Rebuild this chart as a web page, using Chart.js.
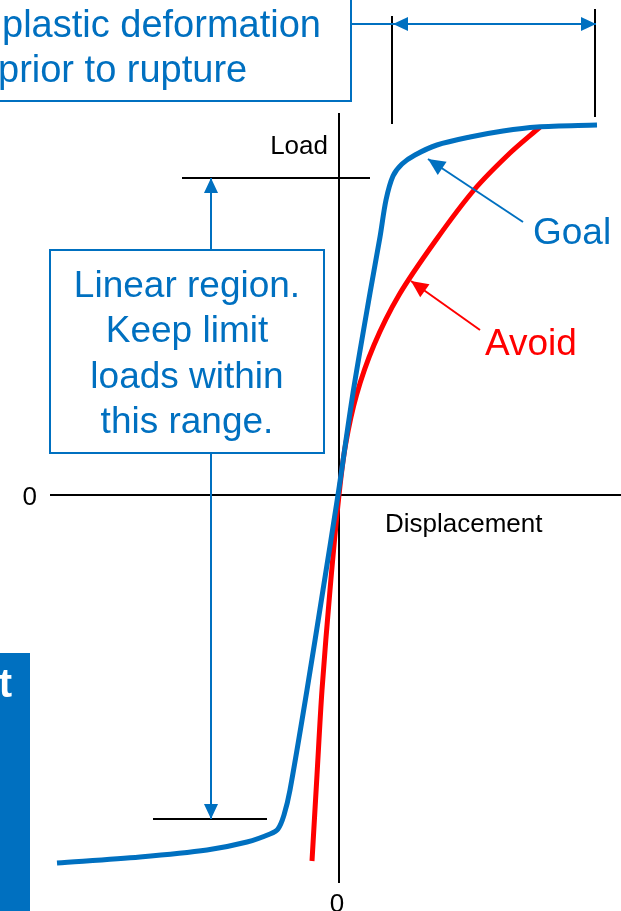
<!DOCTYPE html>
<html>
<head>
<meta charset="utf-8">
<script src="https://cdn.jsdelivr.net/npm/chart.js@4/dist/chart.umd.min.js"></script>
<style>
  html, body { margin: 0; padding: 0; background: #fff; }
  #wrap { width: 621px; height: 911px; position: relative; }
</style>
</head>
<body>
<div id="wrap"><canvas id="chart"></canvas></div>
<script>
// Load–displacement curves (arbitrary units, origin at zero load / zero displacement)
const goalDisplacement = [-2.82, -1.99, -1.32, -0.92, -0.69, -0.61, -0.55, -0.49, -0.32, -0.16, -0.01, 0.14, 0.31, 0.41, 0.47, 0.54, 0.63, 0.76, 0.98, 1.31, 1.64, 1.98, 2.58];
const goalLoad         = [-3.68, -3.62, -3.55, -3.47, -3.39, -3.34, -3.20, -2.95, -1.95, -0.95, 0.00, 1.02, 2.02, 2.58, 2.95, 3.19, 3.31, 3.40, 3.50, 3.58, 3.64, 3.68, 3.70];
const avoidDisplacement = [-0.27, -0.22, -0.17, -0.09, 0.00, 0.065, 0.175, 0.35, 0.60, 0.97, 1.35, 1.71, 2.01];
const avoidLoad         = [-3.66, -2.80, -1.95, -0.95, 0.00, 0.50, 1.00, 1.50, 2.00, 2.55, 3.05, 3.42, 3.68];

const seriesNames = ['Goal', 'Avoid'];
const originTickLabels = ['0', '0'];
const axisTitles = ['Load', 'Displacement'];
const linearRegionText = ['Linear region.', 'Keep limit', 'loads within', 'this range.'];
const plasticText = ['plastic deformation', 'prior to rupture'];

// Design-limit band and plastic range (same units as the curves)
const limitLoadUpper = 3.17;
const limitLoadLower = -3.24;
const plasticStart = 0.53;
const plasticEnd = 2.57;

const BLUE = '#0070C0';
const RED = '#FF0000';
const FONT = '"Liberation Sans", Arial, Helvetica, sans-serif';

const toPoints = (xs, ys) => xs.map((x, i) => ({ x, y: ys[i] }));

const diagram = {
  id: 'diagram',
  beforeDatasetsDraw(chart) {
    const { ctx, scales: { x, y } } = chart;
    const X = v => x.getPixelForValue(v);
    const Y = v => y.getPixelForValue(v);
    ctx.save();
    ctx.strokeStyle = '#000';
    ctx.lineWidth = 2;
    ctx.beginPath();
    // axes through the origin
    ctx.moveTo(X(-2.89), Y(0)); ctx.lineTo(X(3.0), Y(0));
    ctx.moveTo(X(0), Y(3.82)); ctx.lineTo(X(0), Y(-3.88));
    // limit load lines
    ctx.moveTo(X(-1.57), Y(limitLoadUpper)); ctx.lineTo(X(0.31), Y(limitLoadUpper));
    ctx.moveTo(X(-1.86), Y(limitLoadLower)); ctx.lineTo(X(-0.72), Y(limitLoadLower));
    // plastic range markers
    ctx.moveTo(X(plasticStart), Y(4.79)); ctx.lineTo(X(plasticStart), Y(3.71));
    ctx.moveTo(X(plasticEnd - 0.01), Y(4.86)); ctx.lineTo(X(plasticEnd - 0.01), Y(3.78));
    ctx.stroke();

    // axis texts
    ctx.fillStyle = '#000';
    ctx.font = '26px ' + FONT;
    ctx.textBaseline = 'alphabetic';
    ctx.textAlign = 'right';
    ctx.fillText(axisTitles[0], X(-0.11), Y(3.41));
    ctx.fillText(originTickLabels[0], X(-3.02), Y(-0.10));
    ctx.textAlign = 'left';
    ctx.fillText(axisTitles[1], X(0.46), Y(-0.37));
    ctx.textAlign = 'center';
    ctx.fillText(originTickLabels[1], X(-0.02), Y(-4.17));
    ctx.restore();
  },
  afterDatasetsDraw(chart) {
    const { ctx, scales: { x, y } } = chart;
    const X = v => x.getPixelForValue(v);
    const Y = v => y.getPixelForValue(v);

    const arrowHead = (fx, fy, tx, ty, color, len, half) => {
      const a = Math.atan2(ty - fy, tx - fx);
      ctx.fillStyle = color;
      ctx.beginPath();
      ctx.moveTo(tx, ty);
      ctx.lineTo(tx - len * Math.cos(a) + half * Math.sin(a), ty - len * Math.sin(a) - half * Math.cos(a));
      ctx.lineTo(tx - len * Math.cos(a) - half * Math.sin(a), ty - len * Math.sin(a) + half * Math.cos(a));
      ctx.closePath();
      ctx.fill();
    };
    const arrow = (fx, fy, tx, ty, color, len, half) => {
      ctx.strokeStyle = color;
      ctx.lineWidth = 2;
      ctx.beginPath();
      ctx.moveTo(fx, fy);
      ctx.lineTo(tx, ty);
      ctx.stroke();
      arrowHead(fx, fy, tx, ty, color, len, half);
    };

    ctx.save();

    // linear-region dimension arrow
    const dx = X(-1.28);
    ctx.strokeStyle = BLUE;
    ctx.lineWidth = 2;
    ctx.beginPath();
    ctx.moveTo(dx, Y(limitLoadUpper)); ctx.lineTo(dx, Y(limitLoadLower));
    ctx.stroke();
    arrowHead(dx, Y(0), dx, Y(limitLoadUpper), BLUE, 15, 7);
    arrowHead(dx, Y(0), dx, Y(limitLoadLower), BLUE, 15, 7);

    // linear-region callout box
    const bx0 = X(-2.89), bx1 = X(-0.15), by0 = Y(2.45), by1 = Y(0.42);
    ctx.fillStyle = '#fff';
    ctx.fillRect(bx0, by0, bx1 - bx0, by1 - by0);
    ctx.strokeStyle = BLUE;
    ctx.lineWidth = 2;
    ctx.strokeRect(bx0, by0, bx1 - bx0, by1 - by0);
    ctx.fillStyle = BLUE;
    ctx.font = '37px ' + FONT;
    ctx.textAlign = 'center';
    ctx.textBaseline = 'alphabetic';
    const baselines = [1.98, 1.53, 1.07, 0.62];
    linearRegionText.forEach((t, i) => ctx.fillText(t, X(-1.52), Y(baselines[i])));

    // plastic-deformation callout
    const tx1 = X(0.12), ty1 = Y(3.94);
    ctx.fillStyle = '#fff';
    ctx.fillRect(-10, -10, tx1 + 10, ty1 + 10);
    ctx.strokeStyle = BLUE;
    ctx.lineWidth = 2;
    ctx.strokeRect(-10, -10, tx1 + 10, ty1 + 10);
    ctx.fillStyle = BLUE;
    ctx.font = '38px ' + FONT;
    ctx.textAlign = 'left';
    ctx.fillText(plasticText[0], X(-3.37), Y(4.58));
    ctx.fillText(plasticText[1], X(-3.41), Y(4.13));

    // plastic range double arrow with leader from the callout
    const ay = Y(4.71);
    ctx.strokeStyle = BLUE;
    ctx.lineWidth = 2;
    ctx.beginPath();
    ctx.moveTo(tx1, ay); ctx.lineTo(X(plasticEnd), ay);
    ctx.stroke();
    arrowHead(X(plasticEnd), ay, X(plasticStart) + 1, ay, BLUE, 15, 7);
    arrowHead(X(plasticStart), ay, X(plasticEnd), ay, BLUE, 15, 7);

    // series callouts
    arrow(X(1.84), Y(2.73), X(0.89), Y(3.36), BLUE, 17, 8);
    arrow(X(1.41), Y(1.65), X(0.72), Y(2.14), RED, 17, 8);
    ctx.font = '37px ' + FONT;
    ctx.textAlign = 'left';
    ctx.fillStyle = BLUE;
    ctx.fillText(seriesNames[0], X(1.94), Y(2.51));
    ctx.fillStyle = RED;
    ctx.fillText(seriesNames[1], X(1.46), Y(1.40));

    // side tab
    ctx.fillStyle = BLUE;
    ctx.fillRect(X(-3.39), Y(-1.58), X(-3.09) - X(-3.39), Y(-4.3) - Y(-1.58));
    ctx.fillStyle = '#fff';
    ctx.font = 'bold 40px ' + FONT;
    ctx.textAlign = 'right';
    ctx.fillText('t', X(-3.27), Y(-2.02));

    ctx.restore();
  }
};

new Chart(document.getElementById('chart'), {
  type: 'scatter',
  data: {
    datasets: [
      {
        label: seriesNames[0],
        data: toPoints(goalDisplacement, goalLoad),
        showLine: true,
        borderColor: BLUE,
        borderWidth: 5,
        pointRadius: 0,
        tension: 0.3,
        fill: false
      },
      {
        label: seriesNames[1],
        data: toPoints(avoidDisplacement, avoidLoad),
        showLine: true,
        borderColor: RED,
        borderWidth: 5,
        pointRadius: 0,
        tension: 0.3,
        fill: false
      }
    ]
  },
  options: {
    responsive: true,
    maintainAspectRatio: false,
    animation: false,
    layout: { padding: 0 },
    plugins: { legend: { display: false }, tooltip: { enabled: false } },
    scales: {
      x: { type: 'linear', display: false, min: -3.39, max: 2.82 },
      y: { type: 'linear', display: false, min: -4.16, max: 4.95 }
    }
  },
  plugins: [diagram]
});
</script>
</body>
</html>
